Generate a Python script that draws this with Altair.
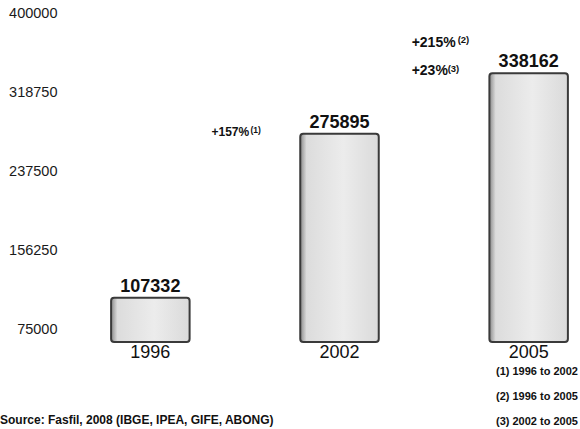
import altair as alt
import pandas as pd

# ---- data ----
years = ["1996", "2002", "2005"]
values = [107332, 275895, 338162]
y_ticks = [75000, 156250, 237500, 318750, 400000]

ann_year = ["2002", "2005", "2005"]
ann_value = [275895, 338162, 338162]
ann_text = ["+157%", "+215%", "+23%"]
ann_note = ["(1)", "(2)", "(3)"]

footnotes = ["(1) 1996 to 2002", "(2) 1996 to 2005", "(3) 2002 to 2005"]
source = "Source: Fasfil, 2008 (IBGE, IPEA, GIFE, ABONG)"

# scale settings
Y_MIN, Y_MAX = 61900, 400000
FONT = "Liberation Sans"

df = pd.DataFrame({"year": years, "value": values})

x_enc = alt.X("year:N", sort=years,
              scale=alt.Scale(paddingInner=0.585, paddingOuter=0.064),
              axis=alt.Axis(title=None, labelAngle=0, domain=False, ticks=False,
                            labelFontSize=18, labelFont=FONT, labelColor="#111",
                            labelPadding=1))
y_enc = alt.Y("value:Q", scale=alt.Scale(domain=[Y_MIN, Y_MAX], zero=False, nice=False),
              axis=alt.Axis(title=None, values=y_ticks, format="d", domain=False,
                            ticks=False, grid=False, labelFontSize=14.5, labelFont=FONT,
                            labelColor="#1a1a1a", labelPadding=42, labelAlign="right"))

grad = alt.Gradient(
    gradient="linear", x1=0, x2=1, y1=0, y2=0,
    stops=[alt.GradientStop(color="#8a8a8a", offset=0),
           alt.GradientStop(color="#dcdcdc", offset=0.08),
           alt.GradientStop(color="#ececec", offset=0.55),
           alt.GradientStop(color="#dadada", offset=1)])

bars = alt.Chart(df).mark_bar(color=grad, stroke="#3a3a3a", strokeWidth=2,
                              cornerRadius=3).encode(
    x=x_enc, y=y_enc, y2=alt.datum(Y_MIN))

labels = alt.Chart(df).mark_text(font=FONT, fontSize=18, fontWeight="bold",
                                 baseline="alphabetic", dy=-6, color="#111").encode(
    x=alt.X("year:N", sort=years), y="value:Q", text="value:Q")

def ann_layer(i, size, sup_size, dx, dy, sdx, sdy):
    d = pd.DataFrame({"year": [ann_year[i]], "value": [ann_value[i]],
                      "t": [ann_text[i]], "n": [ann_note[i]]})
    main = alt.Chart(d).mark_text(font=FONT, fontSize=size, fontWeight="bold",
                                  align="left", baseline="middle", dx=dx, dy=dy,
                                  color="#111").encode(
        x=alt.X("year:N", sort=years), y="value:Q", text="t:N")
    sup = alt.Chart(d).mark_text(font=FONT, fontSize=sup_size, fontWeight="bold",
                                 align="left", baseline="middle", dx=sdx, dy=sdy,
                                 color="#111").encode(
        x=alt.X("year:N", sort=years), y="value:Q", text="n:N")
    return main + sup

a1 = ann_layer(0, 12, 8.5, -128, -2, -89, -4)
a2 = ann_layer(1, 14, 9.5, -117, -30, -71, -33)
a3 = ann_layer(2, 14, 9.5, -117, -2, -81, -4)

notes = alt.Chart(pd.DataFrame({"a": [0]})).mark_text(
    font=FONT, fontSize=11, fontWeight="bold", align="left", baseline="middle",
    lineHeight=24.75, color="#111").encode(
    x=alt.value(397), y=alt.value(359), text=alt.value(footnotes))

src = alt.Chart(pd.DataFrame({"a": [0]})).mark_text(
    font=FONT, fontSize=12, fontWeight="bold", align="left", baseline="middle",
    color="#111").encode(
    x=alt.value(-99), y=alt.value(407), text=alt.value(source))

chart = alt.layer(bars, labels, a1, a2, a3, notes, src).properties(
    width=481, height=329,
    autosize=alt.AutoSizeParams(type="none"),
    padding={"left": 99, "top": 13, "right": 0, "bottom": 87},
    background="white",
).configure_view(stroke=None)

chart.save("out.html", embed_options={"renderer": "svg", "actions": False})
